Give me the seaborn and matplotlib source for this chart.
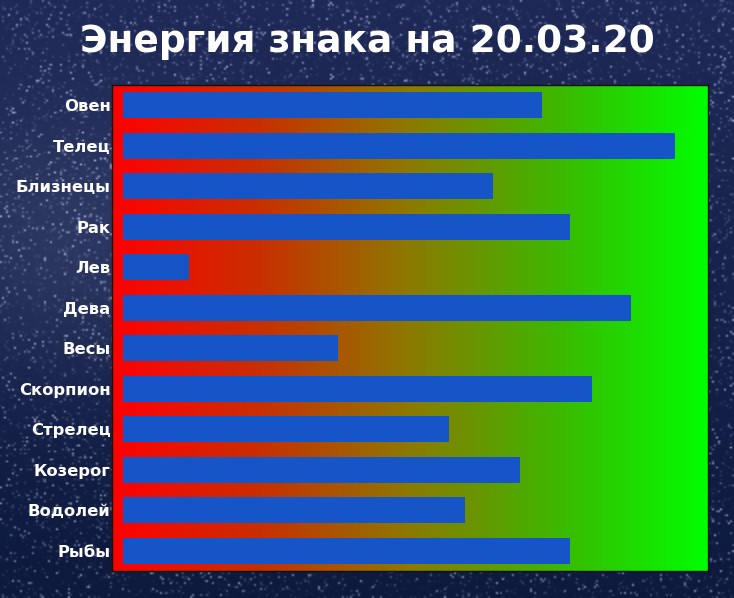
import numpy as np
import pandas as pd
import seaborn as sns
import matplotlib.pyplot as plt
from matplotlib.colors import LinearSegmentedColormap

# данные
znaki = ["Овен", "Телец", "Близнецы", "Рак", "Лев", "Дева", "Весы",
         "Скорпион", "Стрелец", "Козерог", "Водолей", "Рыбы"]
energiya = [76, 100, 67, 81, 12, 92, 39, 85, 59, 72, 62, 81]
zagolovok = "Энергия знака на 20.03.20"

df = pd.DataFrame({"znak": znaki, "energiya": energiya})

sns.set_style("dark")
plt.rcParams["font.family"] = ["DejaVu Sans"]

fig = plt.figure(figsize=(7.34, 5.98), dpi=100)

# фон: тёмно-синее "звёздное небо"
bg = fig.add_axes([0, 0, 1, 1], zorder=-10)
h, w = 300, 367
yy, xx = np.mgrid[0:h, 0:w]
base = np.zeros((h, w, 3))
t = yy / h
glow = np.exp(-((xx / w - 0.1) ** 2 + (t - 0.4) ** 2) / 0.05) * 0.08
base[..., 0] = 0.12 - 0.07 * t + glow
base[..., 1] = 0.16 - 0.06 * t + glow
base[..., 2] = 0.34 - 0.10 * t + glow
rng = np.random.default_rng(3)
stars = rng.random((h, w)) ** 25 * 0.5
base = np.clip(base + stars[..., None], 0, 1)
bg.imshow(base, aspect="auto", extent=[0, 1, 0, 1], interpolation="bilinear")
bg.set_axis_off()

ax = fig.add_axes([0.1526, 0.0452, 0.812, 0.8127])

# градиент красный -> зелёный за столбиками
cmap = LinearSegmentedColormap.from_list("rg", ["#ff0000", "#c83000", "#8c7a00", "#3cb800", "#00ff00"])
ax.imshow(np.linspace(0, 1, 256)[None, :], extent=[-2, 106, 11.5, -0.5],
          aspect="auto", cmap=cmap, zorder=0)

sns.barplot(data=df, y="znak", x="energiya", orient="h", color="#1655c8",
            saturation=1, width=0.64, linewidth=0, ax=ax, zorder=2)

ax.set_xlim(-2, 106)
ax.set_ylim(11.5, -0.5)
ax.set_xlabel("")
ax.set_ylabel("")
ax.set_xticks([])
ax.grid(False)
ax.tick_params(axis="y", length=0, pad=1, colors="white")
for lbl in ax.get_yticklabels():
    lbl.set_fontweight("bold")
    lbl.set_fontsize(11.8)
for s in ax.spines.values():
    s.set_visible(True)
    s.set_color("#111111")
    s.set_linewidth(1)

fig.text(0.5, 0.929, zagolovok, ha="center", va="center", color="white",
         fontsize=27, fontweight="bold")

fig.savefig("out.png", dpi=100)
